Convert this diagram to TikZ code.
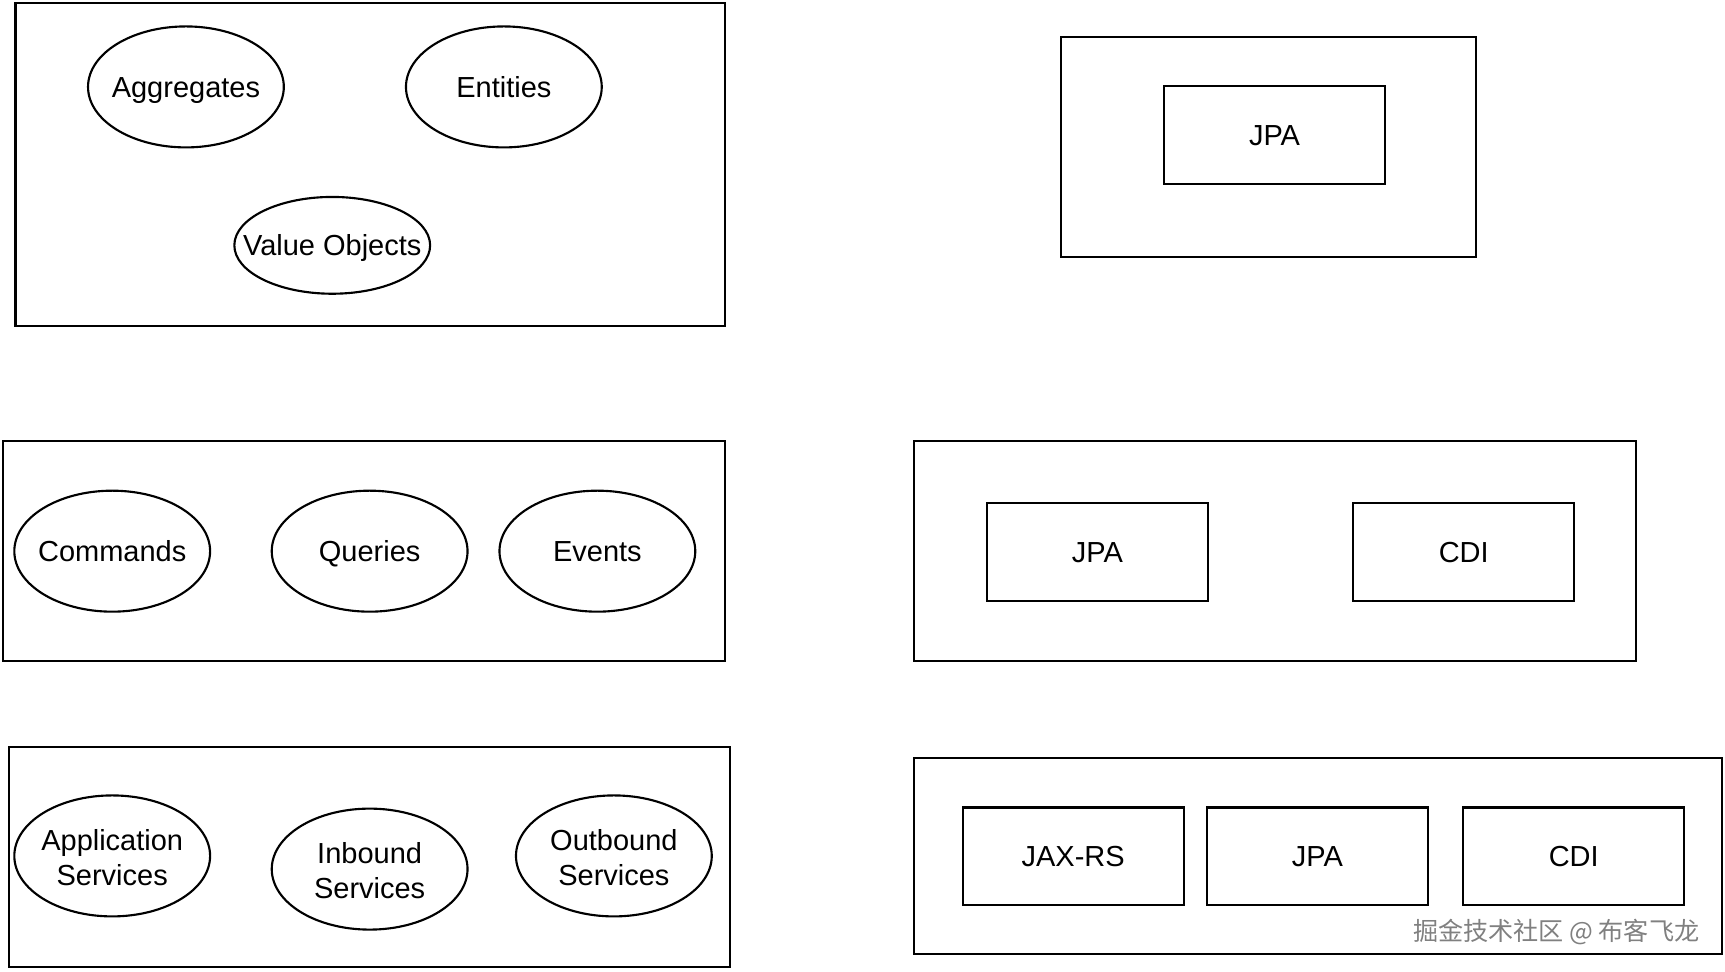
\documentclass[tikz,border=0pt]{standalone}
\usepackage{fontspec}
\setmainfont{Liberation Sans}
\newfontfamily\cjk{Noto Sans CJK SC}
\usetikzlibrary{shapes.geometric}
\newcommand\zw[1]{\makebox[0pt]{#1}}
\newcommand\twol[2]{\makebox[0pt]{\raisebox{-2.6pt}[\height][\depth]{\begin{tabular}{@{}c@{}}#1\\#2\end{tabular}}}}
\tikzset{
  container/.style={draw, line width=1.1pt, rectangle, inner sep=0pt},
  concept/.style={draw, line width=1.1pt, ellipse, inner sep=0pt, minimum width=3.56cm, minimum height=2.2cm, font=\fontsize{15}{17.6}\selectfont, text height=10.7pt, text depth=0pt},
  concepttwo/.style={draw, line width=1.1pt, ellipse, inner sep=0pt, minimum width=3.56cm, minimum height=2.2cm, font=\fontsize{15}{18}\selectfont},
  techbox/.style={draw, line width=1.1pt, rectangle, inner sep=0pt, minimum width=4.02cm, minimum height=1.78cm, font=\fontsize{15}{17.6}\selectfont, text height=10.7pt, text depth=0pt},
}
\begin{document}
\begin{tikzpicture}[x=0.02cm,y=-0.02cm]
\useasboundingbox (0,0) rectangle (1568,883);
% top left
\node[container, minimum width=12.9cm, minimum height=5.86cm] (domain) at (336.5,149.5) {};
\node[concept] (aggregates) at (169,79) {\zw{Aggregates}};
\node[concept] (entities) at (458,79) {\zw{Entities}};
\node[concept, minimum height=1.76cm] (valueobjects) at (302,223) {\zw{Value Objects}};
% top right
\node[container, minimum width=7.56cm, minimum height=4.0cm] (infra1) at (1153,134) {};
\node[techbox] (jpa1) at (1158.5,122.5) {JPA};
% middle left
\node[container, minimum width=13.12cm, minimum height=4.0cm] (model) at (331,501) {};
\node[concept] (commands) at (102,501) {\zw{Commands}};
\node[concept] (queries) at (336,501) {\zw{Queries}};
\node[concept] (events) at (543,501) {\zw{Events}};
% middle right
\node[container, minimum width=13.12cm, minimum height=4.0cm] (infra2) at (1159,501) {};
\node[techbox] (jpa2) at (997.5,501.5) {JPA};
\node[techbox] (cdi2) at (1330.5,501.5) {CDI};
% bottom left
\node[container, minimum width=13.12cm, minimum height=4.0cm] (services) at (336,779) {};
\node[concepttwo] (appsvc) at (102,778) {\twol{Application}{Services}};
\node[concepttwo] (inbound) at (336,790) {\twol{Inbound}{Services}};
\node[concepttwo] (outbound) at (558,778) {\twol{Outbound}{Services}};
% bottom right
\node[container, minimum width=14.68cm, minimum height=3.56cm] (infra3) at (1198,778) {};
\node[techbox] (jaxrs) at (975.5,778.5) {JAX-RS};
\node[techbox] (jpa3) at (1197.5,778.5) {JPA};
\node[techbox] (cdi3) at (1430.5,778.5) {CDI};
% watermark
\node[anchor=east, text=gray, font=\cjk\fontsize{13}{15}\selectfont, inner sep=0pt] (wm) at (1545,847) {掘金技术社区 @ 布客飞龙};
\end{tikzpicture}
\end{document}
